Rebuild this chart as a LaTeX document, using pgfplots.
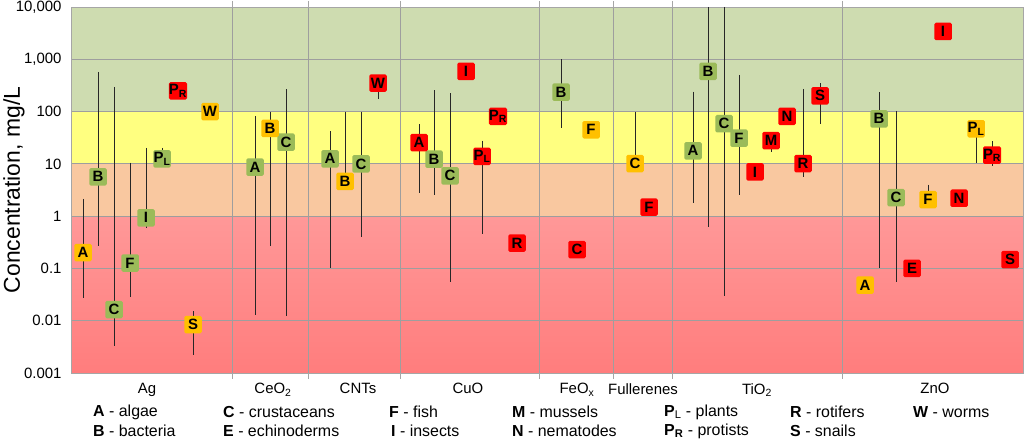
\documentclass[border=0pt]{standalone}
\usepackage{pgfplots}
\pgfplotsset{compat=1.18}
\usepackage{fontspec}
\setmainfont{Liberation Sans}

\definecolor{bgreen}{HTML}{CEDCB0}
\definecolor{byellow}{HTML}{FFFF80}
\definecolor{bpeach}{HTML}{F9C8A0}
\definecolor{bredtop}{HTML}{FF9898}
\definecolor{bredbot}{HTML}{FF7D7D}
\definecolor{mgreen}{HTML}{9BBB59}
\definecolor{morange}{HTML}{FFC000}
\definecolor{mred}{HTML}{FF0000}

\pgfplotsset{
  lbl/.style={only marks, mark=none, nodes near coords, point meta=explicit symbolic,
    every node near coord/.style={anchor=center, fill=#1, rounded corners=1.5bp,
      minimum width=17.5bp, minimum height=17.5bp, inner sep=0pt, text=black,
      font=\fontsize{15}{15}\selectfont\bfseries}},
}

\begin{document}
\begin{tikzpicture}
\begin{axis}[
  name=ax, set layers,
  scale only axis, width=952bp, height=366bp,
  xmin=71, xmax=1023,
  ymode=log, ymin=0.001, ymax=10000,
  ytick={0.001,0.01,0.1,1,10,100,1000,10000},
  yticklabels={0.001,0.01,0.1,1,10,100,{1,000},{10,000}},
  yminorticks=false,
  ytick style={draw=none},
  xtick={232.7,308.3,400.7,539.7,613.5,672.3,842.7},
  xticklabels={{},{},{},{},{},{},{}},
  tick align=outside, major tick length=6bp,
  xtick style={black!35, line width=0.8bp},
  extra x ticks={147,273,358,468,577,643,757,935},
  extra x tick labels={Ag,CeO\textsubscript{2},CNTs,CuO,FeO\textsubscript{x},Fullerenes,TiO\textsubscript{2},ZnO},
  extra x tick style={major tick length=0pt, grid=none,
    xticklabel style={yshift=-7bp}},
  xmajorgrids, ymajorgrids,
  grid style={black!38, line width=0.9bp},
  axis line style={black!35, line width=0.8bp},
  tick label style={font=\fontsize{15}{17}\selectfont},
  /pgf/number format/assume math mode=true,
  ylabel={Concentration, mg/L},
  every axis y label/.style={at={(axis description cs:0,0.5)}, xshift=-57bp,
    rotate=90, anchor=center, font=\fontsize{23}{26}\selectfont},
]
\begin{pgfonlayer}{axis background}
  \fill[bgreen] (axis cs:71,100) rectangle (axis cs:1023,10000);
  \fill[byellow] (axis cs:71,10) rectangle (axis cs:1023,100);
  \fill[bpeach] (axis cs:71,1) rectangle (axis cs:1023,10);
  \shade[top color=bredtop, bottom color=bredbot] (axis cs:71,0.001) rectangle (axis cs:1023,1);
\end{pgfonlayer}

% ranges
\addplot[black!85, line width=0.9bp, unbounded coords=jump] coordinates {
  (83,2.15) (83,0.0275) (83,nan)
  (98,577) (98,0.27) (98,nan)
  (114,298) (114,0.0033) (114,nan)
  (130,10.5) (130,0.0288) (130,nan)
  (146,20.3) (146,0.59) (146,nan)
  (162,20.3) (162,12.5) (162,nan)
  (193,0.0151) (193,0.00224) (193,nan)
  (255,80.6) (255,0.013) (255,nan)
  (270,100) (270,0.27) (270,nan)
  (286,269) (286,0.0121) (286,nan)
  (330,41.7) (330,0.1) (330,nan)
  (345,100) (345,4.6) (345,nan)
  (361,100) (361,0.4) (361,nan)
  (378,505) (378,176) (378,nan)
  (419,57.7) (419,2.8) (419,nan)
  (434,258) (434,2.57) (434,nan)
  (450,226) (450,0.055) (450,nan)
  (482,27.7) (482,0.46) (482,nan)
  (561,1000) (561,48.4) (561,nan)
  (635,100) (635,10.1) (635,nan)
  (693,242) (693,1.78) (693,nan)
  (708,10000) (708,0.62) (708,nan)
  (724,10000) (724,0.030) (724,nan)
  (739,505) (739,2.49) (739,nan)
  (771,27.7) (771,16.5) (771,nan)
  (803,273) (803,5.5) (803,nan)
  (820,351) (820,56.7) (820,nan)
  (879,236) (879,0.1) (879,nan)
  (896,103) (896,0.055) (896,nan)
  (928,4.0) (928,2.06) (928,nan)
  (976,46.9) (976,10.5) (976,nan)
  (992,26.8) (992,9.3)
};

% green
\addplot[lbl=mgreen] coordinates {
  (98,5.66) [B] (114,0.0163) [C] (130,0.127) [F] (146,0.93) [I] (162,12.5) [P\textsubscript{L}]
  (255,8.7) [A] (286,26) [C] (330,12.5) [A] (361,10) [C]
  (434,12.3) [B] (450,5.9) [C] (561,236) [B]
  (693,17.8) [A] (708,585) [B] (724,58.5) [C] (739,31) [F]
  (879,72.8) [B] (896,2.25) [C]
};
% orange
\addplot[lbl=morange] coordinates {
  (83,0.2) [A] (210,100) [W] (193,0.0084) [S] (270,47.5) [B] (345,4.6) [B]
  (591,44.9) [F] (635,10.1) [C] (865,0.048) [A] (928,2.06) [F] (976,46.9) [P\textsubscript{L}]
};
% red
\addplot[lbl=mred] coordinates {
  (178,250) [P\textsubscript{R}] (378,351) [W]
  (419,25.6) [A] (466,585) [I] (482,13.9) [P\textsubscript{L}] (498,80.6) [P\textsubscript{R}] (517,0.306) [R]
  (577,0.228) [C] (649,1.49) [F]
  (755,7.0) [I] (771,27.7) [M] (787,80.6) [N] (803,10.1) [R] (820,200) [S]
  (912,0.1) [E] (959,2.2) [N] (943,3400) [I] (992,14.7) [P\textsubscript{R}] (1010,0.147) [S]
};
\end{axis}

\begin{scope}[shift={(ax.south west)}, xshift=-71bp, yshift=373bp, x=1bp, y=-1bp,
  every node/.style={anchor=west, inner sep=0pt, font=\fontsize{16}{18}\selectfont}]
  \node at (93,412) {\textbf{A} - algae};
  \node at (93,431) {\textbf{B} - bacteria};
  \node at (223,412) {\textbf{C} - crustaceans};
  \node at (223,431) {\textbf{E} - echinoderms};
  \node at (389,412) {\textbf{F} - fish};
  \node at (391,431) {\textbf{I} - insects};
  \node at (512,412) {\textbf{M} - mussels};
  \node at (512,431) {\textbf{N} - nematodes};
  \node at (664,412) {\textbf{P}\textsubscript{L} - plants};
  \node at (664,431) {\textbf{P\textsubscript{R}} - protists};
  \node at (790,412) {\textbf{R} - rotifers};
  \node at (790,431) {\textbf{S} - snails};
  \node at (913,412) {\textbf{W} - worms};
\end{scope}
\pgfresetboundingbox
\path (ax.south west) ++(-71bp,-67bp) rectangle ++(1024bp,440bp);
\end{tikzpicture}
\end{document}
